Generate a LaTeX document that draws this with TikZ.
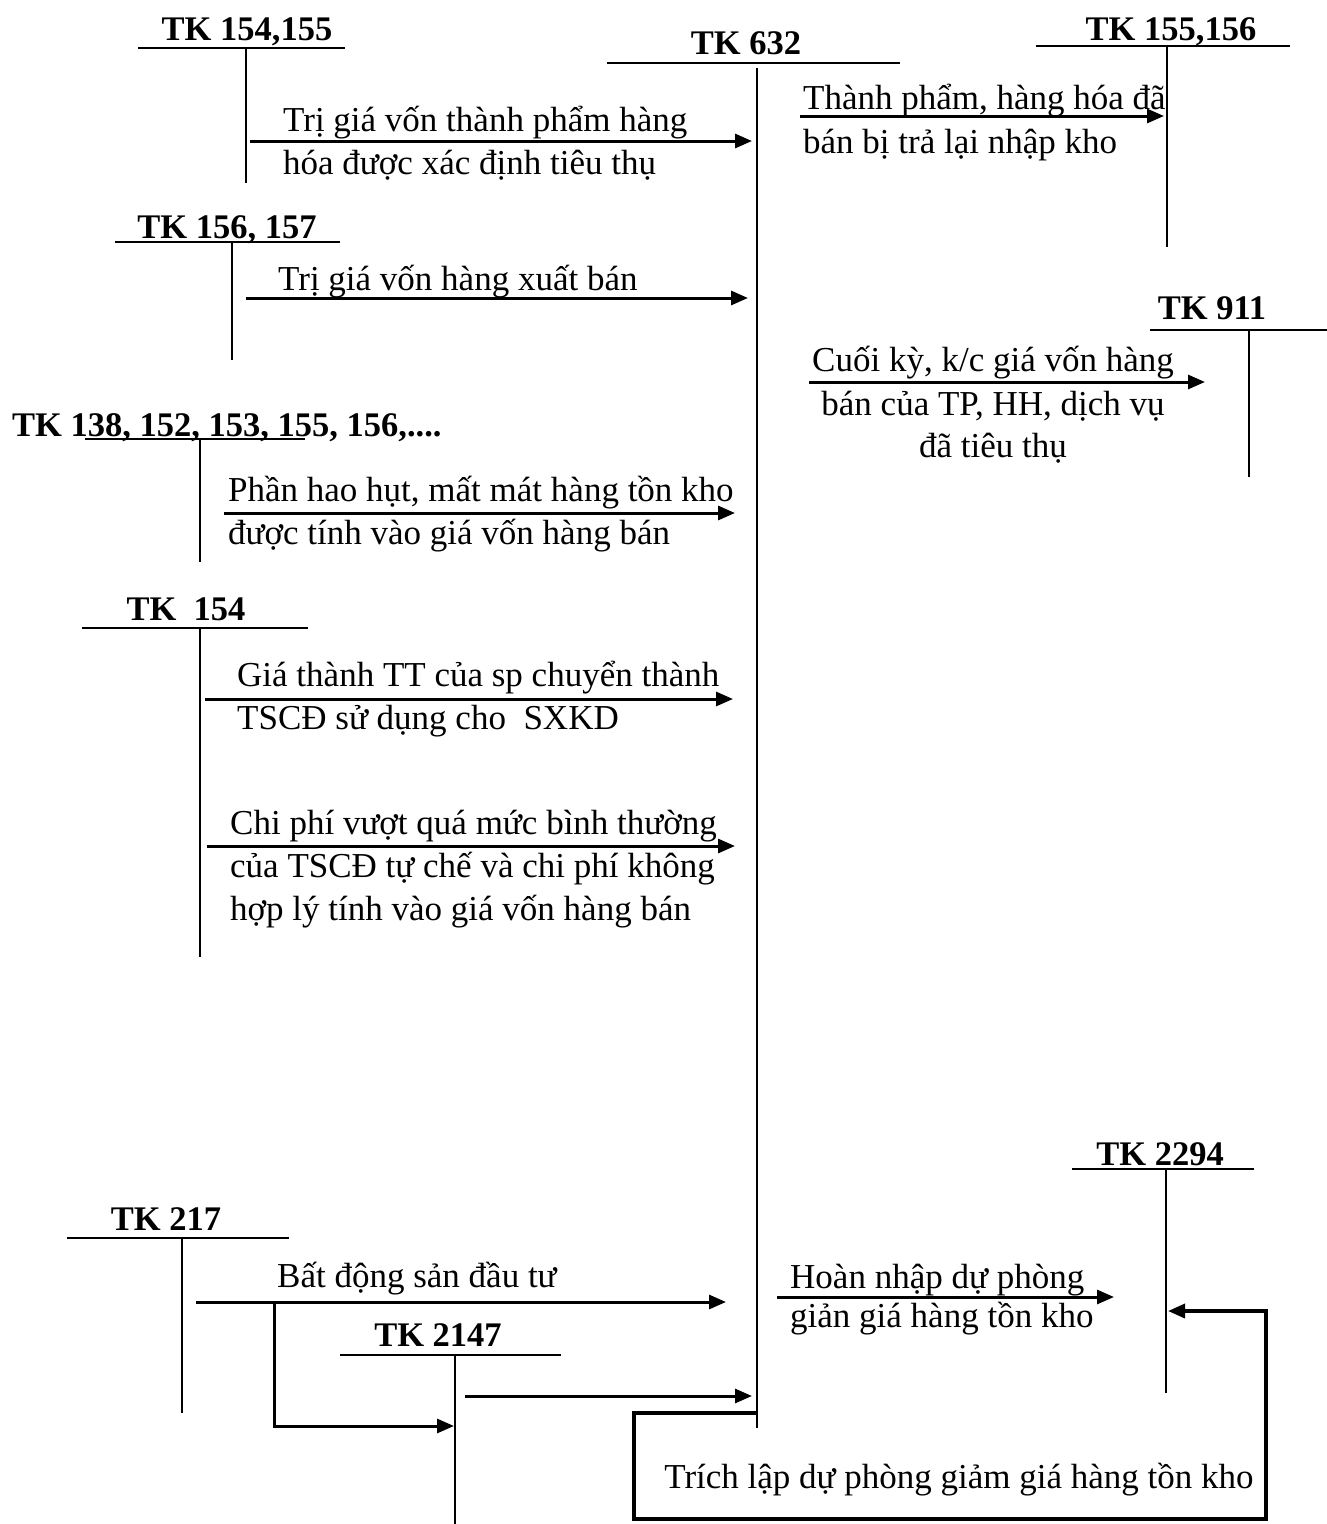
\documentclass[tikz,border=0pt]{standalone}
\usepackage{fontspec}
\setmainfont{Liberation Serif}
\usetikzlibrary{arrows.meta}
\begin{document}
\begin{tikzpicture}[x=1pt,y=-1pt,
  tline/.style={line width=2pt},
  flow/.style={line width=3pt,-{Triangle[length=17pt,width=14pt]}},
  bigflow/.style={line width=3.5pt,-{Triangle[length=17pt,width=14pt]}},
  lbl/.style={font=\fontsize{34.5}{40}\selectfont\bfseries,inner sep=0pt,anchor=base},
  txt/.style={font=\fontsize{35}{40}\selectfont,inner sep=0pt,anchor=base west},
  txtc/.style={font=\fontsize{35}{40}\selectfont,inner sep=0pt,anchor=base}]
\useasboundingbox (0,0) rectangle (1327,1524);

% ---- T-accounts ----
% TK 154,155
\node[lbl] (l1) at (247,40) {TK 154,155};
\coordinate (h1a) at (138,48); \coordinate (h1b) at (345,48);
\coordinate (v1a) at (246,48); \coordinate (v1b) at (246,183);
\draw[tline] (h1a) -- (h1b); \draw[tline] (v1a) -- (v1b);
% TK 632
\node[lbl] (l2) at (746,54) {TK 632};
\coordinate (h2a) at (607,63); \coordinate (h2b) at (900,63);
\coordinate (v2a) at (757,68); \coordinate (v2b) at (757,1428);
\draw[tline] (h2a) -- (h2b); \draw[tline] (v2a) -- (v2b);
% TK 155,156
\node[lbl] (l3) at (1171,40) {TK 155,156};
\coordinate (h3a) at (1036,46); \coordinate (h3b) at (1290,46);
\coordinate (v3a) at (1167,46); \coordinate (v3b) at (1167,247);
\draw[tline] (h3a) -- (h3b); \draw[tline] (v3a) -- (v3b);
% TK 156, 157
\node[lbl] (l4) at (227,238) {TK 156, 157};
\coordinate (h4a) at (115,242); \coordinate (h4b) at (340,242);
\coordinate (v4a) at (232,242); \coordinate (v4b) at (232,360);
\draw[tline] (h4a) -- (h4b); \draw[tline] (v4a) -- (v4b);
% TK 911
\node[lbl] (l5) at (1212,319) {TK 911};
\coordinate (h5a) at (1150,330); \coordinate (h5b) at (1327,330);
\coordinate (v5a) at (1249,330); \coordinate (v5b) at (1249,477);
\draw[tline] (h5a) -- (h5b); \draw[tline] (v5a) -- (v5b);
% TK 138...
\node[lbl,anchor=base west] (l6) at (12,436) {TK 138, 152, 153, 155, 156,....};
\coordinate (h6a) at (85,439); \coordinate (h6b) at (305,439);
\coordinate (v6a) at (200,439); \coordinate (v6b) at (200,562);
\draw[tline] (h6a) -- (h6b); \draw[tline] (v6a) -- (v6b);
% TK 154
\node[lbl] (l7) at (186,620) {TK\ \ 154};
\coordinate (h7a) at (82,628); \coordinate (h7b) at (308,628);
\coordinate (v7a) at (200,628); \coordinate (v7b) at (200,957);
\draw[tline] (h7a) -- (h7b); \draw[tline] (v7a) -- (v7b);
% TK 2294
\node[lbl] (l8) at (1160,1165) {TK 2294};
\coordinate (h8a) at (1072,1169); \coordinate (h8b) at (1254,1169);
\coordinate (v8a) at (1166,1169); \coordinate (v8b) at (1166,1393);
\draw[tline] (h8a) -- (h8b); \draw[tline] (v8a) -- (v8b);
% TK 217
\node[lbl] (l9) at (166,1230) {TK 217};
\coordinate (h9a) at (67,1238); \coordinate (h9b) at (289,1238);
\coordinate (v9a) at (182,1238); \coordinate (v9b) at (182,1413);
\draw[tline] (h9a) -- (h9b); \draw[tline] (v9a) -- (v9b);
% TK 2147
\node[lbl] (l10) at (438,1346) {TK 2147};
\coordinate (h10a) at (340,1355); \coordinate (h10b) at (561,1355);
\coordinate (v10a) at (455,1355); \coordinate (v10b) at (455,1524);
\draw[tline] (h10a) -- (h10b); \draw[tline] (v10a) -- (v10b);

% ---- flows ----
\coordinate (a1s) at (250,141); \coordinate (a1e) at (752,141);
\draw[flow] (a1s) -- (a1e);
\node[txt] (t1a) at (283,131) {Trị giá vốn thành phẩm hàng};
\node[txt] (t1b) at (283,174) {hóa được xác định tiêu thụ};

\coordinate (a2s) at (800,116); \coordinate (a2e) at (1164,116);
\draw[flow] (a2s) -- (a2e);
\node[txt] (t2a) at (803,109) {Thành phẩm, hàng hóa đã};
\node[txt] (t2b) at (803,153) {bán bị trả lại nhập kho};

\coordinate (a3s) at (246,298); \coordinate (a3e) at (748,298);
\draw[flow] (a3s) -- (a3e);
\node[txt] (t3) at (278,290) {Trị giá vốn hàng xuất bán};

\coordinate (a4s) at (809,382); \coordinate (a4e) at (1205,382);
\draw[flow] (a4s) -- (a4e);
\node[txtc] (t4a) at (993,371) {Cuối kỳ, k/c giá vốn hàng};
\node[txtc] (t4b) at (993,415) {bán của TP, HH, dịch vụ};
\node[txtc] (t4c) at (993,457) {đã tiêu thụ};

\coordinate (a5s) at (224,513); \coordinate (a5e) at (735,513);
\draw[flow] (a5s) -- (a5e);
\node[txt] (t5a) at (228,501) {Phần hao hụt, mất mát hàng tồn kho};
\node[txt] (t5b) at (228,544) {được tính vào giá vốn hàng bán};

\coordinate (a6s) at (205,699); \coordinate (a6e) at (733,699);
\draw[flow] (a6s) -- (a6e);
\node[txt] (t6a) at (237,686) {Giá thành TT của sp chuyển thành};
\node[txt] (t6b) at (237,729) {TSCĐ sử dụng cho\ \ SXKD};

\coordinate (a7s) at (207,846); \coordinate (a7e) at (735,846);
\draw[flow] (a7s) -- (a7e);
\node[txt] (t7a) at (230,834) {Chi phí vượt quá mức bình thường};
\node[txt] (t7b) at (230,877) {của TSCĐ tự chế và chi phí không};
\node[txt] (t7c) at (230,920) {hợp lý tính vào giá vốn hàng bán};

\coordinate (a8s) at (777,1297); \coordinate (a8e) at (1114,1297);
\draw[flow] (a8s) -- (a8e);
\node[txt] (t8a) at (790,1288) {Hoàn nhập dự phòng};
\node[txt] (t8b) at (790,1327) {giản giá hàng tồn kho};

\coordinate (a9s) at (196,1302); \coordinate (a9e) at (726,1302);
\draw[flow] (a9s) -- (a9e);
\node[txt] (t9) at (277,1287) {Bất động sản đầu tư};

\coordinate (a10s) at (274,1303); \coordinate (a10c) at (274,1426); \coordinate (a10e) at (454,1426);
\draw[flow] (a10s) -- (a10c) -- (a10e);

\coordinate (a11s) at (465,1396); \coordinate (a11e) at (752,1396);
\draw[flow] (a11s) -- (a11e);

\coordinate (b1) at (757,1413); \coordinate (b2) at (634,1413);
\coordinate (b3) at (634,1519); \coordinate (b4) at (1266,1519);
\coordinate (b5) at (1266,1311); \coordinate (b6) at (1168,1311);
\draw[bigflow] (b1) -- (b2) -- (b3) -- (b4) -- (b5) -- (b6);
\node[txtc] (t12) at (959,1488) {Trích lập dự phòng giảm giá hàng tồn kho};
\end{tikzpicture}
\end{document}
